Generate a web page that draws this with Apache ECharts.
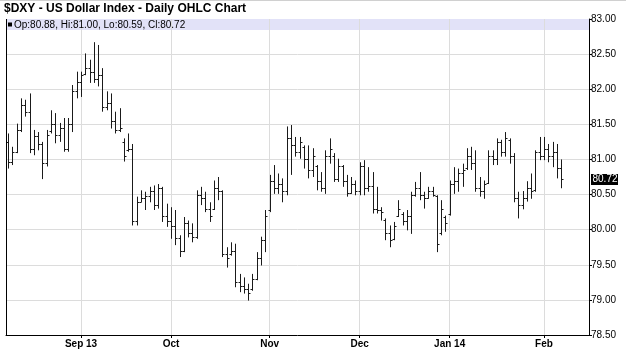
<!DOCTYPE html>
<html><head><meta charset="utf-8">
<script src="https://cdn.jsdelivr.net/npm/echarts@6/dist/echarts.min.js"></script>
<style>html,body{margin:0;padding:0;background:#fff}#c{width:626px;height:354px}</style>
</head><body><div id="c"></div>
<script>
const titleText = '$DXY - US Dollar Index - Daily OHLC Chart';
const legendText = 'Op:80.88, Hi:81.00, Lo:80.59, Cl:80.72';
const lastClose = 80.72;
const tickIndex = [17, 38, 61, 82, 103, 125];
const tickLabels = ['Sep 13', 'Oct', 'Nov', 'Dec', 'Jan 14', 'Feb'];
const yTicks = [78.5, 79, 79.5, 80, 80.5, 81, 81.5, 82, 82.5, 83];

const opens = [81.25,80.97,81.10,81.42,81.78,81.68,81.15,81.33,81.22,80.95,
81.40,81.50,81.35,81.45,81.15,81.50,81.97,82.10,82.22,82.30,
82.25,82.15,82.20,81.75,81.80,81.55,81.42,81.25,81.13,81.15,
80.12,80.40,80.45,80.48,80.55,80.35,80.60,80.20,80.12,80.05,
79.88,79.70,80.10,79.95,79.90,80.50,80.45,80.30,80.30,80.60,
80.55,79.65,79.65,79.70,79.25,79.20,79.15,79.15,79.30,79.60,
79.85,80.28,80.70,80.60,80.65,80.55,81.30,81.20,81.10,81.18,
81.00,80.85,80.90,80.70,80.60,81.05,81.05,80.72,80.90,80.70,
80.52,80.65,80.55,80.90,80.60,80.62,80.30,80.28,80.14,79.95,
79.87,80.20,80.22,80.12,80.20,80.50,80.60,80.50,80.45,80.55,
80.48,79.95,80.18,80.22,80.65,80.70,80.80,80.88,81.05,80.95,
80.60,80.55,80.67,81.05,81.00,81.25,81.10,81.28,81.05,80.45,
80.35,80.45,80.60,80.56,81.10,81.05,81.15,81.05,81.10,80.88];
const highs = [81.37,81.18,81.51,81.87,81.85,81.94,81.42,81.39,81.25,81.42,
81.70,81.66,81.52,81.59,81.59,82.06,82.25,82.25,82.51,82.42,
82.67,82.63,82.30,81.97,81.94,81.68,81.73,81.30,81.37,81.22,
80.47,80.56,80.54,80.61,80.63,80.65,80.61,80.37,80.32,80.28,
79.92,80.18,80.13,80.09,80.56,80.61,80.54,80.39,80.70,80.75,
80.56,79.75,79.82,79.80,79.37,79.32,79.23,79.37,79.68,79.90,
80.28,80.78,80.92,80.80,80.73,81.47,81.49,81.32,81.32,81.20,
81.20,81.16,80.92,80.82,81.13,81.30,81.09,81.01,80.92,80.78,
80.75,80.70,80.96,80.99,80.89,80.82,80.61,80.32,80.16,80.06,
80.11,80.42,80.25,80.28,80.54,80.68,80.82,80.54,80.61,80.61,
80.49,80.42,80.20,80.70,80.89,80.87,80.94,81.16,81.18,81.13,
80.75,80.70,81.13,81.13,81.30,81.28,81.39,81.30,81.09,80.54,
80.55,80.69,80.80,81.13,81.32,81.32,81.22,81.25,81.22,81.00];
const lows = [80.87,80.92,81.09,81.39,81.61,81.09,81.06,81.13,80.72,80.90,
81.37,81.23,81.25,81.11,81.11,81.39,81.87,81.89,82.20,82.09,
82.09,82.04,81.68,81.70,81.44,81.37,81.39,80.97,81.11,80.06,
80.06,80.39,80.28,80.39,80.28,80.30,80.11,80.04,79.87,79.78,
79.61,79.68,79.89,79.82,79.87,80.35,80.25,80.11,80.28,80.42,
79.61,79.46,79.63,79.18,79.11,79.09,78.99,79.13,79.28,79.49,
79.68,80.25,80.51,80.51,80.39,80.49,80.78,81.04,81.01,80.87,
80.73,80.75,80.56,80.54,80.51,80.94,80.68,80.68,80.61,80.47,
80.51,80.49,80.49,80.49,80.54,80.23,80.23,80.13,79.85,79.75,
79.85,80.18,80.06,79.99,79.94,80.47,80.42,80.30,80.44,80.47,
79.68,79.92,79.97,80.20,80.51,80.54,80.61,80.85,80.85,80.54,
80.47,80.44,80.65,80.92,80.92,81.04,81.04,80.94,80.39,80.16,
80.29,80.40,80.44,80.54,80.99,80.99,80.96,80.89,80.73,80.59];
const closes = [80.97,81.10,81.42,81.78,81.68,81.15,81.33,81.22,80.95,81.35,
81.50,81.35,81.45,81.15,81.50,81.97,82.10,82.20,82.30,82.25,
82.15,82.20,81.75,81.80,81.55,81.42,81.45,81.05,81.15,80.12,
80.40,80.45,80.48,80.55,80.35,80.60,80.20,80.12,80.05,79.88,
79.70,80.10,79.95,79.90,80.50,80.45,80.30,80.20,80.60,80.55,
79.65,79.60,79.70,79.25,79.20,79.15,79.10,79.30,79.60,79.85,
80.20,80.70,80.60,80.65,80.55,81.30,81.20,81.10,81.25,81.00,
80.85,81.05,80.70,80.60,81.05,81.15,80.72,80.90,80.70,80.52,
80.65,80.55,80.90,80.60,80.62,80.30,80.28,80.25,79.95,79.85,
80.05,80.30,80.12,80.20,80.50,80.60,80.50,80.45,80.55,80.50,
79.80,80.30,80.10,80.65,80.70,80.80,80.85,81.05,80.95,80.60,
80.55,80.65,81.05,81.00,81.25,81.10,81.30,81.05,80.45,80.35,
80.45,80.60,80.55,81.10,81.05,81.15,81.05,81.10,80.88,80.72];

// trading-day categories (weekdays from 2013-08-08, excluding Dec 25 and Jan 1), plus empty slots on the right
const categories = [];
(function(){
  const d = new Date(Date.UTC(2013, 7, 8));
  const skip = ['2013-12-25', '2014-01-01'];
  while (categories.length < opens.length) {
    const wd = d.getUTCDay();
    const s = d.toISOString().slice(0, 10);
    if (wd !== 0 && wd !== 6 && skip.indexOf(s) < 0) categories.push(s);
    d.setUTCDate(d.getUTCDate() + 1);
  }
  for (let k = 0; k < 6; k++) categories.push('');
})();

const ohlc = opens.map((o, i) => [i, o, highs[i], lows[i], closes[i]]);
const labelMap = {};
tickIndex.forEach((t, k) => { labelMap[t] = tickLabels[k]; });

const FONT = '"Liberation Sans", Arial, sans-serif';
const chart = echarts.init(document.getElementById('c'), null, { renderer: 'canvas' });

function renderItem(params, api) {
  const i = api.value(0);
  const x = Math.round(api.coord([i, 0])[0]) + 0.5;
  const yo = Math.round(api.coord([i, api.value(1)])[1]) + 0.5;
  const yh = api.coord([i, api.value(2)])[1];
  const yl = api.coord([i, api.value(3)])[1];
  const yc = Math.round(api.coord([i, api.value(4)])[1]) + 0.5;
  const st = { stroke: '#1a1a1a', lineWidth: 1 };
  return {
    type: 'group',
    children: [
      { type: 'line', shape: { x1: x, y1: yh, x2: x, y2: yl }, style: st },
      { type: 'line', shape: { x1: x - 2, y1: yo, x2: x, y2: yo }, style: st },
      { type: 'line', shape: { x1: x, y1: yc, x2: x + 2, y2: yc }, style: st }
    ]
  };
}

chart.setOption({
  animation: false,
  backgroundColor: '#fff',
  grid: { left: 6, right: 37, top: 19, bottom: 19 },
  xAxis: {
    type: 'category',
    data: categories,
    boundaryGap: true,
    axisLine: { show: true, lineStyle: { color: '#000', width: 1 } },
    axisTick: { show: true, alignWithLabel: true, length: 3, lineStyle: { color: '#000' },
      interval: (idx) => labelMap[idx] !== undefined },
    axisLabel: { show: true, interval: (idx) => labelMap[idx] !== undefined,
      formatter: (v, idx) => labelMap[idx] || '',
      fontFamily: FONT, fontSize: 10, fontWeight: 'bold', color: '#000', margin: 4 },
    splitLine: { show: false }
  },
  yAxis: {
    type: 'value',
    position: 'right',
    min: 78.5, max: 83, interval: 0.5,
    axisLine: { show: true, lineStyle: { color: '#000', width: 1 } },
    axisTick: { show: true, length: 3, lineStyle: { color: '#000' } },
    axisLabel: { formatter: (v) => v.toFixed(2), fontFamily: FONT, fontSize: 10, color: '#000', margin: 2 },
    splitLine: { show: true, lineStyle: { color: '#dcdcdc', width: 1 } }
  },
  series: [
    {
      type: 'line', data: [], silent: true, z: 1,
      markLine: {
        silent: true, symbol: ['none', 'none'], z: 1,
        label: { show: false },
        lineStyle: { color: '#dcdcdc', type: 'solid', width: 1 },
        emphasis: { disabled: true },
        data: tickIndex.map(t => ({ xAxis: t }))
      }
    },
    {
      type: 'custom', renderItem: renderItem, data: ohlc, z: 3,
      encode: { x: 0, y: [1, 2, 3, 4] }, silent: true
    }
  ]
});

const rect = chart.getModel().getComponent('grid').coordinateSystem.getRect();
const yLast = chart.convertToPixel({ yAxisIndex: 0 }, lastClose);
chart.setOption({
  graphic: [
    { type: 'line', shape: { x1: 0, y1: 0.5, x2: 626, y2: 0.5 }, style: { stroke: '#d0d0d0', lineWidth: 1 }, z: 10 },
    { type: 'text', left: 4, top: 3, style: { text: titleText, font: 'bold 12px ' + FONT, fill: '#000' }, z: 10 },
    { type: 'rect', shape: { x: rect.x, y: rect.y, width: rect.width, height: 11 }, style: { fill: '#e2e2f8' }, z: 0 },
    { type: 'rect', shape: { x: rect.x + 2, y: rect.y + 3.5, width: 4, height: 4 }, style: { fill: '#000' }, z: 10 },
    { type: 'text', x: rect.x + 8, y: rect.y + 6, style: { text: legendText, font: '10px ' + FONT, fill: '#000', verticalAlign: 'middle' }, z: 10 },
    { type: 'line', shape: { x1: rect.x + 0.5, y1: rect.y, x2: rect.x + 0.5, y2: rect.y + rect.height }, style: { stroke: '#000', lineWidth: 1 }, z: 10 },
    { type: 'rect', shape: { x: rect.x + rect.width + 2, y: Math.round(yLast) - 5, width: 27, height: 11 }, style: { fill: '#000' }, z: 20 },
    { type: 'text', x: rect.x + rect.width + 3.5, y: Math.round(yLast) + 0.5, style: { text: lastClose.toFixed(2), font: '10px ' + FONT, fill: '#fff', verticalAlign: 'middle' }, z: 21 }
  ]
});
</script></body></html>
